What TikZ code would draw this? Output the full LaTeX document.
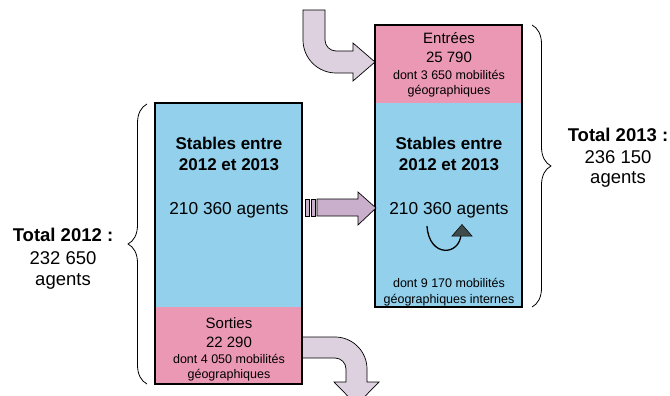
\documentclass[tikz,border=0pt]{standalone}
\usepackage{fontspec}
\setmainfont{Liberation Sans}
\usetikzlibrary{decorations.pathreplacing}
\definecolor{stayblue}{HTML}{92D0EC}
\definecolor{movepink}{HTML}{EB98B5}
\definecolor{flowlight}{HTML}{DDD1E0}
\definecolor{flowmid}{HTML}{C9AFCB}
\definecolor{turngray}{HTML}{3F4A4A}
\begin{document}
\begin{tikzpicture}[x=1pt,y=-1pt,
  big/.style={font=\fontsize{17.3}{20}\selectfont, inner sep=0pt},
  bigbold/.style={font=\fontsize{17}{20}\selectfont\bfseries, inner sep=0pt},
  total/.style={font=\fontsize{18.5}{22}\selectfont, inner sep=0pt},
  totalbold/.style={font=\fontsize{18.5}{22}\selectfont\bfseries, inner sep=0pt},
  mid/.style={font=\fontsize{15}{18}\selectfont, inner sep=0pt},
  small/.style={font=\fontsize{12.5}{15}\selectfont, inner sep=0pt},
  panel/.style={rectangle, inner sep=0pt, outer sep=0pt, anchor=north west},
  frame/.style={draw=black, line width=2pt},
  blockarrow/.style={draw=black, line width=0.7pt},
  bracket/.style={draw=black, line width=0.8pt, decorate, decoration={brace, amplitude=19pt}}]
\useasboundingbox (0,0) rectangle (670,396);

% flows entering and leaving (drawn first, under the frames)
\filldraw[blockarrow, fill=flowlight]
  (303,10) -- (303,40) arc[start angle=180, end angle=90, radius=33]
  -- (353,73) -- (353,81) -- (375,62) -- (353,43) -- (353,51) -- (336,51)
  arc[start angle=90, end angle=180, radius=11] -- (325,10) -- cycle;
\filldraw[blockarrow, fill=flowlight]
  (300,337) -- (335,337) arc[start angle=-90, end angle=0, radius=32]
  -- (367,382) -- (379,382) -- (356.5,405) -- (334,382) -- (346,382) -- (346,369)
  arc[start angle=0, end angle=-90, radius=11] -- (300,358) -- cycle;

% 2012 column
\node[panel, fill=stayblue, minimum width=147pt, minimum height=204pt] (stay12) at (155,103) {};
\node[panel, fill=movepink, minimum width=147pt, minimum height=77pt] (out12) at (155,307) {};
\draw[frame] (stay12.north west) rectangle (out12.south east);

% 2013 column
\node[panel, fill=movepink, minimum width=147pt, minimum height=78pt] (in13) at (375,25) {};
\node[panel, fill=stayblue, minimum width=147pt, minimum height=204pt] (stay13) at (375,103) {};
\draw[frame] (in13.north west) rectangle (stay13.south east);

% stable staff carried over
\filldraw[blockarrow, fill=flowmid] (305,199) rectangle (309,216);
\filldraw[blockarrow, fill=flowmid] (311,199) rectangle (315,216);
\filldraw[blockarrow, fill=flowmid]
  (317,199) -- (358,199) -- (358,192) -- (376,208) -- (358,225) -- (358,216) -- (317,216) -- cycle;

% texts of the 2012 column
\node[bigbold] (s12a) at (229,143) {Stables entre};
\node[bigbold] (s12b) at (229,165) {2012 et 2013};
\node[big] (s12c) at (229,210) {210 360 agents};
\node[mid] (o12a) at (229,323) {Sorties};
\node[mid] (o12b) at (229,342) {22 290};
\node[small] (o12c) at (229,359) {dont 4 050 mobilités};
\node[small] (o12d) at (229,375) {géographiques};

% texts of the 2013 column
\node[mid] (i13a) at (449,38) {Entrées};
\node[mid] (i13b) at (449,57) {25 790};
\node[small] (i13c) at (449,75) {dont 3 650 mobilités};
\node[small] (i13d) at (449,91) {géographiques};
\node[bigbold] (s13a) at (449,143) {Stables entre};
\node[bigbold] (s13b) at (449,165) {2012 et 2013};
\node[big] (s13c) at (449,210) {210 360 agents};
\node[small] (s13d) at (449,283) {dont 9 170 mobilités};
\node[small] (s13e) at (449,300) {géographiques internes};

% internal mobility loop
\draw[line width=1.3pt] (427,226) .. controls (429,258) and (460,256) .. (461,234);
\filldraw[fill=turngray, draw=black, line width=0.5pt] (452,236) -- (462,224.5) -- (472,236) -- cycle;

% totals with braces
\draw[bracket] (147,384) -- (147,104);
\draw[bracket] (532,25) -- (532,307);
\node[totalbold] (t12a) at (63,235) {Total 2012 :};
\node[total] (t12b) at (63,258) {232 650};
\node[total] (t12c) at (63,281) {agents};
\node[totalbold] (t13a) at (618,135) {Total 2013 :};
\node[total] (t13b) at (618,157) {236 150};
\node[total] (t13c) at (618,179) {agents};
\end{tikzpicture}
\end{document}
